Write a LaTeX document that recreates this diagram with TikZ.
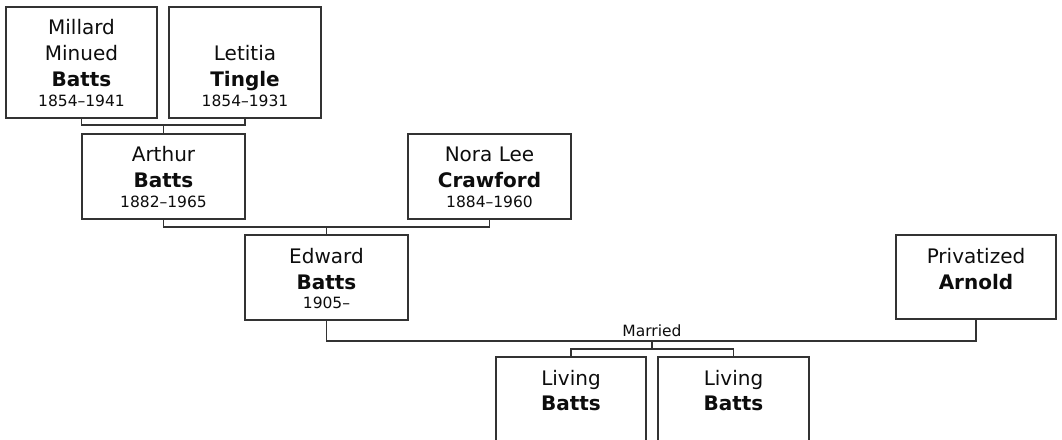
\documentclass[tikz,border=0pt]{standalone}
\usepackage{fontspec}
\setmainfont{DejaVu Sans}
\definecolor{edge}{HTML}{333333}
\definecolor{ink}{HTML}{0d0d0d}
\begin{document}
\begin{tikzpicture}[x=1bp,y=-1bp,
  personbox/.style={draw=edge,line width=1.3bp,fill=white,inner sep=0pt,outer sep=0pt,anchor=north west},
  nm/.style={anchor=base,inner sep=0pt,text=ink,font=\fontsize{20bp}{26bp}\selectfont},
  sn/.style={nm,font=\fontsize{20bp}{26bp}\selectfont\bfseries},
  dt/.style={anchor=base,inner sep=0pt,text=ink,font=\fontsize{15.5bp}{20bp}\selectfont},
  link/.style={draw=edge,line width=1.3bp}]
\useasboundingbox (0,0) rectangle (1062,440);
\clip (0,0) rectangle (1062,440);
% boxes
\node[personbox,minimum width=151bp,minimum height=111bp] (mm) at (6,7) {};
\node[personbox,minimum width=152bp,minimum height=111bp] (lt) at (169,7) {};
\node[personbox,minimum width=163bp,minimum height=85bp] (ab) at (82,134) {};
\node[personbox,minimum width=163bp,minimum height=85bp] (nc) at (408,134) {};
\node[personbox,minimum width=163bp,minimum height=85bp] (eb) at (245,235) {};
\node[personbox,minimum width=160bp,minimum height=84bp] (pa) at (896,235) {};
\node[personbox,minimum width=150bp,minimum height=95bp] (l1) at (496,357) {};
\node[personbox,minimum width=151bp,minimum height=95bp] (l2) at (658,357) {};
% texts
\node[nm] (mm1) at (81.5,35) {Millard};
\node[nm] (mm2) at (81.5,61) {Minued};
\node[sn] (mm3) at (81.5,87) {Batts};
\node[dt] (mm4) at (81.5,107) {1854–1941};
\node[nm] (lt1) at (245,61) {Letitia};
\node[sn] (lt2) at (245,87) {Tingle};
\node[dt] (lt3) at (245,107) {1854–1931};
\node[nm] (ab1) at (163.5,162) {Arthur};
\node[sn] (ab2) at (163.5,188) {Batts};
\node[dt] (ab3) at (163.5,208) {1882–1965};
\node[nm] (nc1) at (489.5,162) {Nora Lee};
\node[sn] (nc2) at (489.5,188) {Crawford};
\node[dt] (nc3) at (489.5,208) {1884–1960};
\node[nm] (eb1) at (326.5,264) {Edward};
\node[sn] (eb2) at (326.5,290) {Batts};
\node[dt] (eb3) at (326.5,309) {1905–};
\node[nm] (pa1) at (976,264) {Privatized};
\node[sn] (pa2) at (976,290) {Arnold};
\node[nm] (l11) at (571,386) {Living};
\node[sn] (l12) at (571,411) {Batts};
\node[nm] (l21) at (733.5,386) {Living};
\node[sn] (l22) at (733.5,411) {Batts};
% connectors
\coordinate (j1) at (ab.north |- 0,125);
\draw[link] (mm.south) |- (j1) -| (lt.south);
\draw[link] (j1) -- (ab.north);
\coordinate (j2) at (eb.north |- 0,227);
\draw[link] (ab.south) |- (j2) -| (nc.south);
\draw[link] (j2) -- (eb.north);
\coordinate (j3) at (652,341);
\draw[link] (eb.south) |- (j3) -| (pa.south);
\node[dt,anchor=base] (mar) at (652,336.5) {Married};
\coordinate (j4) at (652,349);
\draw[link] (j3) -- (j4);
\draw[link] (l1.north) |- (j4) -| (l2.north);
\end{tikzpicture}
\end{document}
